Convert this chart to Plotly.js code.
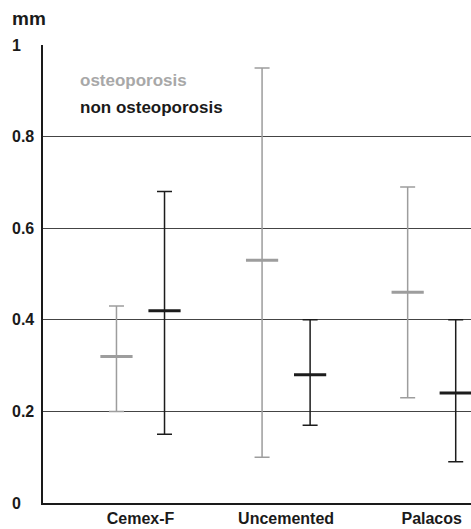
<!DOCTYPE html>
<html>
<head>
<meta charset="utf-8">
<script src="https://cdn.plot.ly/plotly-3.0.1.min.js"></script>
<style>html,body{margin:0;padding:0;background:#fff;}#chart{width:471px;height:529px;}</style>
</head>
<body>
<div id="chart"></div>
<script>
var categories = ["Cemex-F", "Uncemented", "Palacos"];
var osteoMean  = [0.32, 0.53, 0.46];
var osteoUpper = [0.43, 0.95, 0.69];
var osteoLower = [0.20, 0.10, 0.23];
var nonMean    = [0.42, 0.28, 0.24];
var nonUpper   = [0.68, 0.40, 0.40];
var nonLower   = [0.15, 0.17, 0.09];
var yTicks     = [0, 0.2, 0.4, 0.6, 0.8, 1];
var yTickText  = ["0", "0.2", "0.4", "0.6", "0.8", "1"];
var seriesNames = ["osteoporosis", "non osteoporosis"];

var FONT = "Liberation Sans, Arial, sans-serif";
var GREY = "#9d9d9d", BLACK = "#1c1c1c";
var off = 0.165;
var idx = categories.map(function(c, i){ return i; });

function trace(mean, up, lo, dx, color, name) {
  return {
    type: "scatter", mode: "markers", name: name, showlegend: false,
    x: idx.map(function(i){ return i + dx; }), y: mean,
    marker: {symbol: "line-ew", size: 23, line: {color: color, width: 3}},
    error_y: {type: "data", symmetric: false,
      array: up.map(function(v, i){ return v - mean[i]; }),
      arrayminus: lo.map(function(v, i){ return mean[i] - v; }),
      color: color, thickness: 1.5, width: 7.5},
    hoverinfo: "skip", cliponaxis: false
  };
}

var data = [
  trace(osteoMean, osteoUpper, osteoLower, -off, GREY, seriesNames[0]),
  trace(nonMean, nonUpper, nonLower, off, BLACK, seriesNames[1])
];

var annotations = yTicks.map(function(v, i){
  return {xref: "paper", yref: "y", x: -33/428, y: v, xanchor: "left", yanchor: "middle",
    text: yTickText[i], showarrow: false, font: {family: FONT, size: 16, color: "#1a1a1a", weight: "bold"}};
});
annotations.push({xref: "paper", yref: "paper", x: -33/428, y: 1 + 26/458, xanchor: "left", yanchor: "middle",
  text: "mm", showarrow: false, font: {family: FONT, size: 19, color: "#1a1a1a", weight: "bold"}});
annotations.push({xref: "paper", yref: "paper", x: 35/428, y: (503-80)/458, xanchor: "left", yanchor: "middle",
  text: seriesNames[0], showarrow: false, font: {family: FONT, size: 17, color: "#a8a8a8", weight: "bold"}});
annotations.push({xref: "paper", yref: "paper", x: 35/428, y: (503-107)/458, xanchor: "left", yanchor: "middle",
  text: seriesNames[1], showarrow: false, font: {family: FONT, size: 17, color: "#1a1a1a", weight: "bold"}});

var layout = {
  width: 471, height: 529,
  margin: {l: 43, r: 0, t: 45, b: 26},
  paper_bgcolor: "#fff", plot_bgcolor: "#fff",
  showlegend: false,
  font: {family: FONT, size: 16, color: "#1a1a1a"},
  xaxis: {
    range: [-0.6696, 2.270], tickvals: idx, ticktext: categories,
    showgrid: false, zeroline: false, showline: true, linecolor: "#1a1a1a", linewidth: 2,
    ticks: "", tickfont: {family: FONT, size: 16, color: "#1a1a1a", weight: "bold"}, fixedrange: true
  },
  yaxis: {
    range: [0, 1], tickvals: yTicks, showticklabels: false,
    showgrid: true, gridcolor: "#444", gridwidth: 1, zeroline: false,
    showline: true, linecolor: "#1a1a1a", linewidth: 2, ticks: "", fixedrange: true
  },
  annotations: annotations
};

Plotly.newPlot("chart", data, layout, {displayModeBar: false, staticPlot: true});
</script>
</body>
</html>
